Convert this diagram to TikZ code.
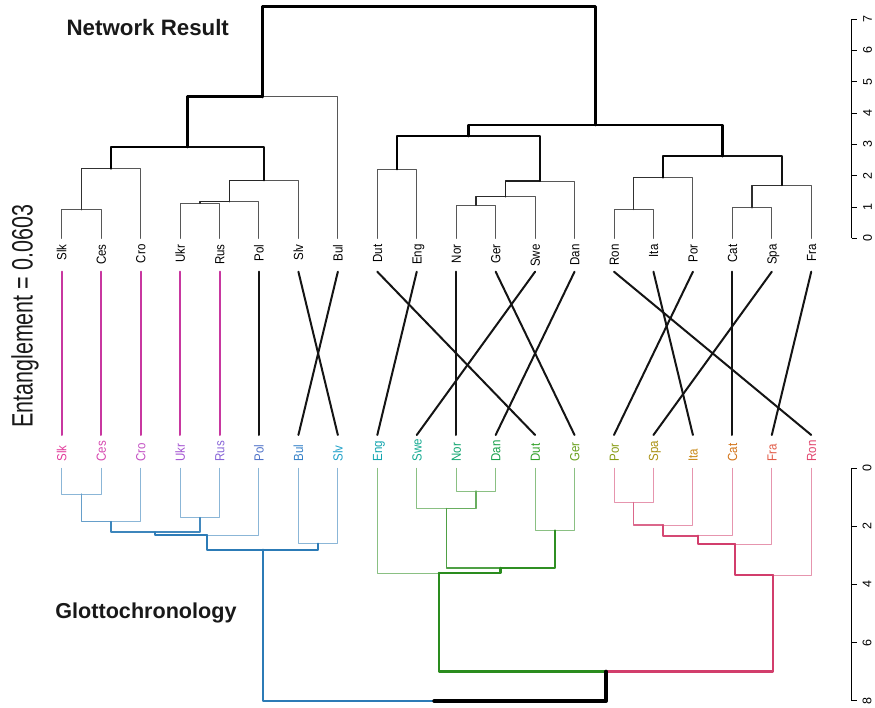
\documentclass[tikz,border=0pt]{standalone}
\usepackage{fontspec}
\setmainfont{Liberation Sans}
\usepackage{graphicx}
\definecolor{blu}{RGB}{44,123,182}
\definecolor{grn}{RGB}{42,140,30}
\definecolor{pnk}{RGB}{210,62,108}
\definecolor{conmag}{RGB}{200,55,160}
\definecolor{cSlk}{RGB}{226,60,155}
\definecolor{cCes}{RGB}{214,70,175}
\definecolor{cCro}{RGB}{195,80,195}
\definecolor{cUkr}{RGB}{165,85,210}
\definecolor{cRus}{RGB}{135,100,215}
\definecolor{cPol}{RGB}{80,115,200}
\definecolor{cBul}{RGB}{55,130,200}
\definecolor{cSlv}{RGB}{30,160,200}
\definecolor{cEng}{RGB}{20,165,175}
\definecolor{cSwe}{RGB}{20,170,145}
\definecolor{cNor}{RGB}{15,165,110}
\definecolor{cDan}{RGB}{25,160,75}
\definecolor{cDut}{RGB}{50,160,40}
\definecolor{cGer}{RGB}{105,160,30}
\definecolor{cPor}{RGB}{135,155,20}
\definecolor{cSpa}{RGB}{170,145,20}
\definecolor{cIta}{RGB}{200,135,20}
\definecolor{cCat}{RGB}{210,115,25}
\definecolor{cFra}{RGB}{225,90,70}
\definecolor{cRon}{RGB}{225,70,110}
\newcommand\tedge[3]{%
  \pgfmathsetmacro\lw{0.95+0.55*#3}%
  \pgfmathsetmacro\pc{min(100,66+16*#3)}%
  \colorlet{ec}{black!\pc!white}%
  \draw[line width=\lw pt, draw=ec, line cap=round, line join=round] (#1) -| (#2);}
\newcommand\bedge[4]{%
  \pgfmathsetmacro\lw{0.95+0.45*#3}%
  \pgfmathsetmacro\pc{min(100,55+20*#3)}%
  \colorlet{ec}{#4!\pc!white}%
  \draw[line width=\lw pt, draw=ec, line cap=round, line join=round] (#1) -| (#2);}
\tikzset{
  leaflab/.style={rotate=90, inner sep=0pt, font=\fontsize{11.5}{13}\selectfont, text height=9.5pt, text depth=0pt},
  toplab/.style={leaflab, anchor=east},
  botlab/.style={leaflab, anchor=west},
  conn/.style={line width=2pt, line cap=round},
  conm/.style={conn, draw=conmag},
  conk/.style={conn, draw=black!92},
  axisline/.style={line width=0.9pt},
  axlab/.style={rotate=90, inner sep=0pt, font=\fontsize{12.5}{14}\selectfont},
  ttl/.style={anchor=base west, inner sep=0pt, font=\bfseries, text=black!90},
}
\begin{document}
\begin{tikzpicture}[x=1pt,y=-1pt]
\useasboundingbox (0,0) rectangle (875,708);

% leaves
\foreach \n [count=\i from 0] in {Slk,Ces,Cro,Ukr,Rus,Pol,Slv,Bul,Dut,Eng,Nor,Ger,Swe,Dan,Ron,Ita,Por,Cat,Spa,Fra}{
  \pgfmathsetmacro\xx{61.7+39.45*\i}
  \coordinate (t\n) at (\xx,238.3);
  \coordinate (tc\n) at (\xx,271.7);
  \node[toplab] (lt\n) at (\xx,244.3) {\scalebox{1}[1.15]{\n}};
}
\foreach \n [count=\i from 0] in {Slk,Ces,Cro,Ukr,Rus,Pol,Bul,Slv,Eng,Swe,Nor,Dan,Dut,Ger,Por,Spa,Ita,Cat,Fra,Ron}{
  \pgfmathsetmacro\xx{61.7+39.45*\i}
  \coordinate (b\n) at (\xx,468.3);
  \coordinate (bc\n) at (\xx,435);
  \node[botlab, text=c\n] (lb\n) at (\xx,461.7) {\scalebox{1}[1.15]{\n}};
}

% top internal nodes
\coordinate (tSC) at (81.43,209.7);
\coordinate (tSCC) at (111.0,168.7);
\coordinate (tUR) at (199.78,203.3);
\coordinate (tURP) at (229.36,201.7);
\coordinate (tURPS) at (263.88,180.3);
\coordinate (tSl1) at (187.44,147);
\coordinate (tSlav) at (262.65,96.7);
\coordinate (tDE) at (397.03,169.3);
\coordinate (tNG) at (475.93,205.3);
\coordinate (tNGS) at (505.51,196.7);
\coordinate (tNGSD) at (540.03,181);
\coordinate (tGerm) at (468.53,136);
\coordinate (tRI) at (633.73,209.3);
\coordinate (tRIP) at (663.31,177.7);
\coordinate (tCS) at (752.08,207.7);
\coordinate (tCSF) at (781.66,185.3);
\coordinate (tRom) at (722.49,156.3);
\coordinate (tGR) at (595.51,125);
\coordinate (tRoot) at (429.08,6.5);

\tedge{tSC}{tSlk}{0} \tedge{tSC}{tCes}{0}
\tedge{tSCC}{tCro}{0} \tedge{tUR}{tUkr}{0} \tedge{tUR}{tRus}{0}
\tedge{tURP}{tPol}{0} \tedge{tURPS}{tSlv}{0} \tedge{tSlav}{tBul}{0}
\tedge{tDE}{tDut}{0} \tedge{tDE}{tEng}{0}
\tedge{tNG}{tNor}{0} \tedge{tNG}{tGer}{0}
\tedge{tNGS}{tSwe}{0} \tedge{tNGSD}{tDan}{0}
\tedge{tRI}{tRon}{0} \tedge{tRI}{tIta}{0} \tedge{tRIP}{tPor}{0}
\tedge{tCS}{tCat}{0} \tedge{tCS}{tSpa}{0} \tedge{tCSF}{tFra}{0}
\tedge{tSCC}{tSC}{0.92}
\tedge{tURP}{tUR}{1.12}
\tedge{tURPS}{tURP}{1.17}
\tedge{tSl1}{tURPS}{1.85}
\tedge{tSl1}{tSCC}{2.22}
\tedge{tNGS}{tNG}{1.05}
\tedge{tNGSD}{tNGS}{1.33}
\tedge{tGerm}{tNGSD}{1.83}
\tedge{tGerm}{tDE}{2.2}
\tedge{tRIP}{tRI}{0.92}
\tedge{tCSF}{tCS}{0.98}
\tedge{tRom}{tCSF}{1.69}
\tedge{tRom}{tRIP}{1.94}
\tedge{tSlav}{tSl1}{2.92}
\tedge{tGR}{tRom}{2.62}
\tedge{tGR}{tGerm}{3.27}
\tedge{tRoot}{tGR}{3.62}
\tedge{tRoot}{tSlav}{4.52}

% bottom internal nodes
\coordinate (bSC) at (81.43,494);
\coordinate (bSCC) at (111.0,521.7);
\coordinate (bUR) at (199.78,517.7);
\coordinate (bSCCUR) at (155.39,532.3);
\coordinate (bP) at (207.17,535.3);
\coordinate (bBS) at (318.13,543.7);
\coordinate (bSlav) at (262.65,549.7);
\coordinate (bND) at (475.93,491);
\coordinate (bSND) at (446.34,508.7);
\coordinate (bDG) at (554.83,530.3);
\coordinate (bSNDDG) at (500.58,568);
\coordinate (bGerm) at (438.94,573);
\coordinate (bPS) at (633.73,502.7);
\coordinate (bPSI) at (663.31,525);
\coordinate (bPSIC) at (697.83,535.7);
\coordinate (bPSICF) at (734.82,544);
\coordinate (bRom) at (773.03,575.3);
\coordinate (bGR) at (605.99,671.7);
\coordinate (bRoot) at (434.32,701);

\bedge{bSC}{bSlk}{0}{blu} \bedge{bSC}{bCes}{0}{blu}
\bedge{bSCC}{bCro}{0}{blu}
\bedge{bUR}{bUkr}{0}{blu} \bedge{bUR}{bRus}{0}{blu}
\bedge{bP}{bPol}{0}{blu}
\bedge{bBS}{bBul}{0}{blu} \bedge{bBS}{bSlv}{0}{blu}
\bedge{bSCC}{bSC}{0.88}{blu}
\bedge{bSCCUR}{bUR}{1.71}{blu}
\bedge{bSCCUR}{bSCC}{1.84}{blu}
\bedge{bP}{bSCCUR}{2.21}{blu}
\bedge{bSlav}{bP}{2.31}{blu}
\bedge{bSlav}{bBS}{2.6}{blu}
\bedge{bND}{bNor}{0}{grn} \bedge{bND}{bDan}{0}{grn}
\bedge{bSND}{bSwe}{0}{grn}
\bedge{bDG}{bDut}{0}{grn} \bedge{bDG}{bGer}{0}{grn}
\bedge{bGerm}{bEng}{0}{grn}
\bedge{bSND}{bND}{0.78}{grn}
\bedge{bSNDDG}{bSND}{1.39}{grn}
\bedge{bSNDDG}{bDG}{2.13}{grn}
\bedge{bGerm}{bSNDDG}{3.44}{grn}
\bedge{bPS}{bPor}{0}{pnk} \bedge{bPS}{bSpa}{0}{pnk}
\bedge{bPSI}{bIta}{0}{pnk} \bedge{bPSIC}{bCat}{0}{pnk}
\bedge{bPSICF}{bFra}{0}{pnk} \bedge{bRom}{bRon}{0}{pnk}
\bedge{bPSI}{bPS}{1.2}{pnk}
\bedge{bPSIC}{bPSI}{1.97}{pnk}
\bedge{bPSICF}{bPSIC}{2.33}{pnk}
\bedge{bRom}{bPSICF}{2.62}{pnk}
\bedge{bGR}{bGerm}{3.6}{grn}
\bedge{bGR}{bRom}{3.68}{pnk}
\bedge{bRoot}{bSlav}{2.8}{blu}
\bedge{bRoot}{bGR}{7}{black}

% connectors
\foreach \n in {Slk,Ces,Cro,Ukr,Rus}{ \draw[conm] (tc\n) -- (bc\n); }
\foreach \n in {Pol,Slv,Bul,Dut,Eng,Nor,Ger,Swe,Dan,Ron,Ita,Por,Cat,Spa,Fra}{ \draw[conk] (tc\n) -- (bc\n); }

% axes
\coordinate (ta0) at (851.7,238.3);
\coordinate (ta7) at (851.7,19);
\draw[axisline] (ta0) -- (ta7);
\foreach \k in {0,...,7}{
  \pgfmathsetmacro\yy{238.3-31.33*\k}
  \coordinate (tt\k) at (851.7,\yy);
  \coordinate (tte\k) at (857.2,\yy);
  \draw[axisline] (tt\k) -- (tte\k);
  \node[axlab] (tl\k) at (867.5,\yy) {\k};
}
\coordinate (ba0) at (851.7,468.3);
\coordinate (ba8) at (851.7,700.7);
\draw[axisline] (ba0) -- (ba8);
\foreach \k in {0,2,4,6,8}{
  \pgfmathsetmacro\yy{468.3+29.05*\k}
  \coordinate (bt\k) at (851.7,\yy);
  \coordinate (bte\k) at (857.2,\yy);
  \draw[axisline] (bt\k) -- (bte\k);
  \node[axlab] (bl\k) at (867,\yy) {\k};
}

% titles
\node[ttl, font=\fontsize{22.3}{26}\selectfont\bfseries] (title1) at (66.4,36) {Network Result};
\node[ttl, font=\fontsize{21.6}{26}\selectfont\bfseries] (title2) at (55.2,618.3) {Glottochronology};
\node[rotate=90, anchor=base west, inner sep=0pt, font=\fontsize{21.5}{24}\selectfont, text=black!90] (ent) at (32.5,428) {\scalebox{1}[1.37]{Entanglement = 0.0603}};
\end{tikzpicture}
\end{document}
